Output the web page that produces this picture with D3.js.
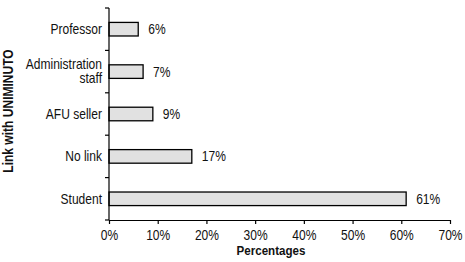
<!DOCTYPE html>
<html>
<head>
<meta charset="utf-8">
<script src="https://cdn.jsdelivr.net/npm/d3@7"></script>
<style>
  html, body { margin: 0; padding: 0; background: #fff; }
  svg text { font-family: "Liberation Sans", Arial, sans-serif; fill: #111; }
</style>
</head>
<body>
<div id="chart"></div>
<script>
// Data
const categories = ['Professor', 'Administration staff', 'AFU seller', 'No link', 'Student'];
const values = [6, 7, 9, 17, 61];
const xTicks = [0, 10, 20, 30, 40, 50, 60, 70];

const width = 465, height = 262;
const margin = { top: 8, right: 15, bottom: 42, left: 109 };
const squeeze = 0.86; // narrow-font look

const svg = d3.select('#chart')
    .append('svg')
    .attr('width', width)
    .attr('height', height);

const x = d3.scaleLinear()
    .domain([0, 70])
    .range([margin.left, width - margin.right]);

const y = d3.scaleBand()
    .domain(categories)
    .range([margin.top, height - margin.bottom])
    .paddingInner(0.68)
    .paddingOuter(0.34);

// Bars
svg.append('g')
    .selectAll('rect')
    .data(categories)
    .join('rect')
    .attr('x', x(0))
    .attr('y', d => y(d))
    .attr('width', (d, i) => x(values[i]) - x(0))
    .attr('height', y.bandwidth())
    .attr('fill', '#e1e1e1')
    .attr('stroke', '#000')
    .attr('stroke-width', 1.3);

// Value labels
svg.append('g')
    .selectAll('text')
    .data(categories)
    .join('text')
    .attr('transform', (d, i) => `translate(${x(values[i]) + 10},${y(d) + y.bandwidth() / 2}) scale(${squeeze},1)`)
    .attr('dy', '0.36em')
    .attr('font-size', '14px')
    .text((d, i) => values[i] + '%');

// X axis
const xAxis = svg.append('g')
    .attr('transform', `translate(0,${height - margin.bottom})`)
    .call(d3.axisBottom(x).tickValues(xTicks).tickFormat(d => d + '%').tickSize(4).tickSizeOuter(0));
xAxis.select('.domain').attr('stroke', '#000').attr('stroke-width', 1.2);
xAxis.selectAll('.tick line').attr('stroke', '#000').attr('stroke-width', 1.2);
xAxis.selectAll('.tick text')
    .attr('font-size', '14px')
    .attr('y', 7)
    .attr('dy', '0.9em')
    .attr('transform', `scale(${squeeze},1)`);

// Y axis: ticks at band boundaries
const step = y.step();
const yEdges = d3.range(categories.length + 1).map(i => margin.top + i * step);
svg.append('line')
    .attr('x1', x(0)).attr('x2', x(0))
    .attr('y1', margin.top).attr('y2', height - margin.bottom)
    .attr('stroke', '#000').attr('stroke-width', 1.2);
svg.append('g')
    .selectAll('line')
    .data(yEdges)
    .join('line')
    .attr('x1', x(0) - 4).attr('x2', x(0))
    .attr('y1', d => d).attr('y2', d => d)
    .attr('stroke', '#000').attr('stroke-width', 1.2);

// Category labels
const catLabels = svg.append('g')
    .selectAll('text')
    .data(categories)
    .join('text')
    .attr('transform', d => `translate(${x(0) - 7},${y(d) + y.bandwidth() / 2}) scale(${squeeze},1)`)
    .attr('text-anchor', 'end')
    .attr('font-size', '14px');
catLabels.each(function(d) {
    const t = d3.select(this);
    if (d === 'Administration staff') {
        t.append('tspan').attr('x', 0).attr('dy', '-0.22em').text('Administration');
        t.append('tspan').attr('x', 0).attr('dy', '1.05em').text('staff');
    } else {
        t.attr('dy', '0.36em').text(d);
    }
});

// Axis titles
svg.append('text')
    .attr('transform', `translate(271,255) scale(${squeeze},1)`)
    .attr('text-anchor', 'middle')
    .attr('font-size', '13.5px')
    .attr('font-weight', 'bold')
    .text('Percentages');

svg.append('text')
    .attr('transform', `translate(13,${(margin.top + height - margin.bottom) / 2 - 3}) rotate(-90) scale(${squeeze},1)`)
    .attr('text-anchor', 'middle')
    .attr('font-size', '14px')
    .attr('font-weight', 'bold')
    .text('Link with UNIMINUTO');
</script>
</body>
</html>
